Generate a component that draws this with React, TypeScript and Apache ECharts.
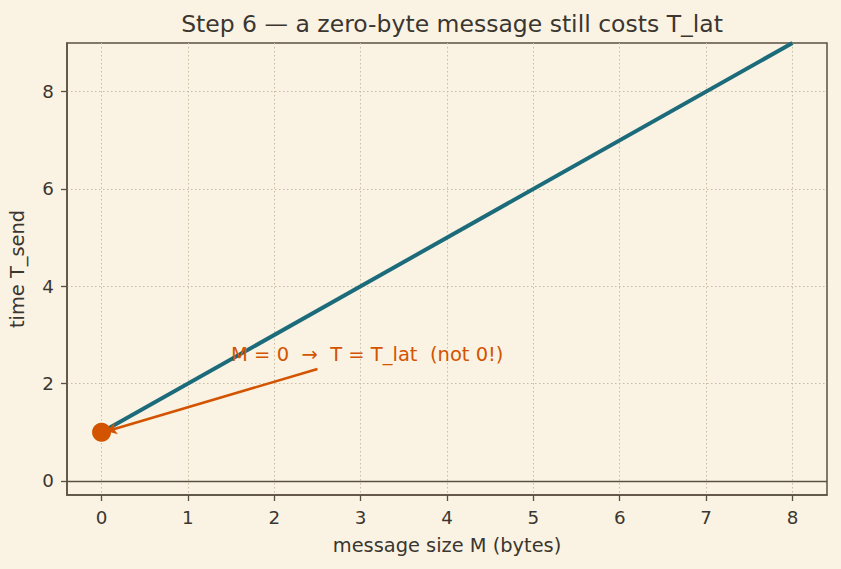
import React, { useEffect, useRef } from "react";
import * as echarts from "echarts";

const lineX = [0, 8];
const lineY = [1, 9];
const pointM = [0];
const pointT = [1];
const arrowFrom = [2.5, 2.3];
const arrowTo = [0.06, 1.02];
const noteText = "M = 0  →  T = T_lat  (not 0!)";
const notePos = [1.5, 2.6];
const xTicks = [0, 1, 2, 3, 4, 5, 6, 7, 8];
const yTicks = [0, 2, 4, 6, 8];
const titleText = "Step 6 — a zero-byte message still costs T_lat";
const xName = "message size M (bytes)";
const yName = "time T_send";

const BG = "#faf3e3";
const TEAL = "#1c6b7b";
const ORANGE = "#d35400";
const INK = "#3b3630";
const FRAME = "#5b5040";
const GRID = "#c8bba0";
const FONT = "DejaVu Sans";

export default function App() {
  const ref = useRef<HTMLDivElement>(null);
  useEffect(() => {
    if (!ref.current) return;
    const chart = echarts.init(ref.current, null, { renderer: "svg" });
    chart.setOption({
      animation: false,
      backgroundColor: BG,
      textStyle: { fontFamily: FONT },
      title: {
        text: titleText,
        left: 447,
        textAlign: "center",
        top: 7,
        textStyle: { fontFamily: FONT, fontSize: 23.5, fontWeight: "normal", color: INK },
      },
      grid: {
        left: 67,
        right: 14,
        top: 43,
        bottom: 74,
        outerBoundsMode: "none",
        containLabel: false,
        show: true,
        borderColor: FRAME,
        borderWidth: 1.5,
        backgroundColor: "transparent",
      },
      xAxis: {
        type: "value",
        min: -0.4,
        max: 8.4,
        name: xName,
        nameLocation: "middle",
        nameGap: 41,
        nameTextStyle: { fontFamily: FONT, fontSize: 19.4, color: INK },
        axisLine: { show: true, onZero: false, lineStyle: { color: FRAME, width: 1.5 } },
        axisTick: { show: true, length: 6, customValues: xTicks, lineStyle: { color: FRAME, width: 1.3 } },
        axisLabel: { customValues: xTicks, fontSize: 18.3, color: INK, margin: 13, fontFamily: FONT },
        splitLine: { show: true, lineStyle: { color: GRID, type: [1.5, 2.5], width: 1 } },
      },
      yAxis: {
        type: "value",
        min: -0.29,
        max: 9.0,
        name: yName,
        nameLocation: "middle",
        nameGap: 40,
        nameTextStyle: { fontFamily: FONT, fontSize: 19.4, color: INK },
        axisLine: { show: true, onZero: false, lineStyle: { color: FRAME, width: 1.5 } },
        axisTick: { show: true, length: 6, customValues: yTicks, lineStyle: { color: FRAME, width: 1.3 } },
        axisLabel: { customValues: yTicks, fontSize: 18.3, color: INK, margin: 13, fontFamily: FONT },
        splitLine: { show: true, lineStyle: { color: GRID, type: [1.5, 2.5], width: 1 } },
      },
      series: [
        {
          type: "line",
          data: lineX.map((x, i) => [x, lineY[i]]),
          showSymbol: false,
          lineStyle: { color: TEAL, width: 4 },
          z: 3,
          markLine: {
            silent: true,
            symbol: ["none", "none"],
            label: { show: false },
            lineStyle: { color: FRAME, width: 1.3, type: "solid" },
            data: [{ yAxis: 0 }],
          },
        },
        {
          type: "scatter",
          data: pointM.map((m, i) => [m, pointT[i]]),
          symbolSize: 19,
          itemStyle: { color: ORANGE, opacity: 1 },
          z: 4,
        },
        {
          type: "line",
          data: [],
          markLine: {
            silent: true,
            symbol: ["none", "arrow"],
            symbolSize: [9, 10],
            label: { show: false },
            lineStyle: { color: ORANGE, width: 2.6, type: "solid" },
            data: [[{ coord: arrowFrom }, { coord: arrowTo }]],
          },
          z: 5,
        },
        {
          type: "scatter",
          data: [notePos],
          symbolSize: 0,
          itemStyle: { opacity: 1 },
          label: {
            show: true,
            position: "right",
            distance: 0,
            formatter: noteText,
            color: ORANGE,
            fontSize: 19.5,
            fontFamily: FONT,
          },
          z: 6,
        },
      ],
    });
    return () => chart.dispose();
  }, []);
  return <div ref={ref} style={{ width: 841, height: 569, position: "absolute", left: 0, top: 0 }} />;
}
